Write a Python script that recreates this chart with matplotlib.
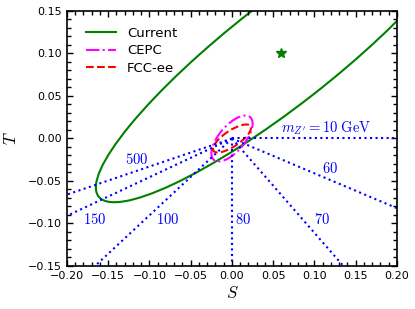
import numpy as np
import matplotlib
matplotlib.use("Agg")
import matplotlib.pyplot as plt
from matplotlib.patches import Ellipse
from matplotlib.lines import Line2D
from matplotlib.ticker import MultipleLocator

plt.rcParams['mathtext.fontset'] = 'cm'

# Error ellipses: centre (S, T), half-extent in S, half-extent in T, correlation
ell_names = ["Current", "CEPC", "FCC-ee"]
ell_center_s = [0.06, 0.0, 0.0]
ell_center_t = [0.10, 0.0, 0.0]
ell_half_s = [0.225, 0.025, 0.023]
ell_half_t = [0.175, 0.027, 0.0165]
ell_rho = [0.90, 0.65, 0.75]
ell_colors = ["green", "magenta", "red"]
ell_styles = ["-", "-.", "--"]

best_fit = (0.06, 0.10)

# Z' mass rays from the origin: end point of each ray
zp_mass = ["10", "60", "70", "80", "100", "150", "500"]
zp_end_s = [0.20, 0.20, 0.135, 0.0, -0.166, -0.20, -0.20]
zp_end_t = [0.0, -0.082, -0.15, -0.15, -0.15, -0.091, -0.066]
zp_label_s = [0.06, 0.119, 0.109, 0.013, -0.078, -0.167, -0.116]
zp_label_t = [0.0124, -0.035, -0.095, -0.095, -0.095, -0.095, -0.025]


def cov_ellipse(cs, ct, hs, ht, rho, **kw):
    cov = np.array([[hs * hs, rho * hs * ht], [rho * hs * ht, ht * ht]])
    vals, vecs = np.linalg.eigh(cov)
    angle = np.degrees(np.arctan2(vecs[1, 1], vecs[0, 1]))
    return Ellipse((cs, ct), 2 * np.sqrt(vals[1]), 2 * np.sqrt(vals[0]),
                   angle=angle, fill=False, **kw)


fig = plt.figure(figsize=(4.15, 3.09), dpi=100)
ax = fig.add_axes([0.1614, 0.1392, 0.7952, 0.8252])

# blue rays
for m, es, et, ls_, lt in zip(zp_mass, zp_end_s, zp_end_t, zp_label_s, zp_label_t):
    ax.plot([0, es], [0, et], color="blue", ls=":", lw=1.5)
    if m == "10":
        txt = r"$m_{Z'} = 10\ \mathrm{GeV}$"
        ax.text(ls_, lt, txt, color="blue", fontsize=10.5, ha="left", va="center")
    else:
        ax.text(ls_, lt, "$" + m + "$", color="blue", fontsize=10.5,
                ha="center", va="center")

handles = []
for i in range(3):
    ax.add_patch(cov_ellipse(ell_center_s[i], ell_center_t[i], ell_half_s[i],
                             ell_half_t[i], ell_rho[i], edgecolor=ell_colors[i],
                             ls=ell_styles[i], lw=1.5))
    handles.append(Line2D([], [], color=ell_colors[i], ls=ell_styles[i], lw=1.5))

ax.plot(best_fit[0], best_fit[1], marker="*", color="green", ms=7.5, ls="none")

ax.set_xlim(-0.2, 0.2)
ax.set_ylim(-0.15, 0.15)
ax.xaxis.set_major_locator(MultipleLocator(0.05))
ax.yaxis.set_major_locator(MultipleLocator(0.05))
ax.xaxis.set_minor_locator(MultipleLocator(0.01))
ax.yaxis.set_minor_locator(MultipleLocator(0.01))
ax.tick_params(which="both", direction="in", top=True, right=True, labelsize=8)
ax.tick_params(which="major", length=4.5, width=1)
ax.tick_params(which="minor", length=3, width=1)
for sp in ax.spines.values():
    sp.set_linewidth(1.2)

ax.set_xlabel("$S$", fontsize=12, labelpad=2)
ax.set_ylabel("$T$", fontsize=12, labelpad=6)

ax.legend(handles, ell_names, loc="upper left", frameon=False, fontsize=9.5,
          handlelength=2.3, bbox_to_anchor=(0.018, 0.99), borderaxespad=0.6,
          labelspacing=0.35)

fig.savefig("out.png", dpi=100)
